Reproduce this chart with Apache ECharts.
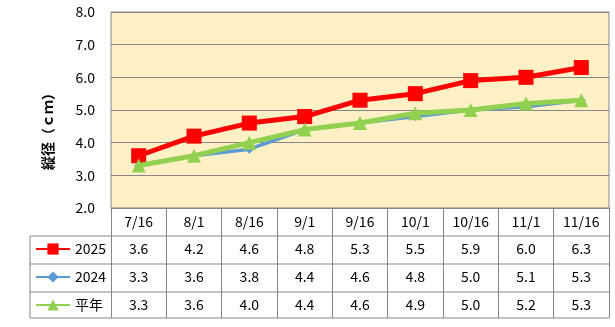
<!DOCTYPE html>
<html><head><meta charset="utf-8">
<script src="https://cdn.jsdelivr.net/npm/echarts@6/dist/echarts.min.js"></script>
<style>html,body{margin:0;padding:0;background:#fff}#c{width:615px;height:327px}</style>
</head><body><div id="c"></div>
<script>
var categories = ['7/16','8/1','8/16','9/1','9/16','10/1','10/16','11/1','11/16'];
var v2025 = [3.6, 4.2, 4.6, 4.8, 5.3, 5.5, 5.9, 6.0, 6.3];
var v2024 = [3.3, 3.6, 3.8, 4.4, 4.6, 4.8, 5.0, 5.1, 5.3];
var vNormal = [3.3, 3.6, 4.0, 4.4, 4.6, 4.9, 5.0, 5.2, 5.3];
var seriesNames = ['2025', '2024', '平年'];
var yTicks = {min: 2, max: 8, interval: 1};
var yTitle = '縦径（ｃｍ）';

var FONT = '"Noto Sans CJK JP", "Noto Sans", sans-serif';
var GL = 111, GR = 609, GT = 12, GB = 208, ROW = 28, TL = 30;
var gray = '#868686';

function rowAxis(arr, margin) {
  return {
    type: 'category', data: categories, gridIndex: 0, position: 'bottom',
    axisLine: {show: false}, axisTick: {show: false}, splitLine: {show: false},
    axisLabel: {margin: margin, verticalAlign: 'middle', color: '#000', fontSize: 14, fontFamily: FONT,
      formatter: function (v, i) { return arr ? arr[i].toFixed(1) : v; }}
  };
}
var xMain = rowAxis(null, 13.5);
xMain.axisLine = {show: true, lineStyle: {color: gray, width: 1}};
xMain.axisTick = {show: true, length: 110, interval: 0, lineStyle: {color: gray, width: 1}};

var chart = echarts.init(document.getElementById('c'), null, {renderer: 'canvas'});
var graphics = [];
[GB + ROW, GB + 2 * ROW, GB + 3 * ROW, GB + 4 * ROW - 2].forEach(function (y) {
  graphics.push({type: 'line', shape: {x1: TL, y1: y, x2: GR, y2: y}, style: {stroke: gray, lineWidth: 1}});
});
graphics.push({type: 'line', shape: {x1: TL, y1: GB + ROW, x2: TL, y2: GB + 4 * ROW - 2}, style: {stroke: gray, lineWidth: 1}});
graphics.push({type: 'text', x: 48, y: 128, rotation: Math.PI / 2,
  style: {text: yTitle, fontSize: 14, fontWeight: 'bold', fontFamily: FONT, fill: '#000', align: 'center', verticalAlign: 'middle'}});

chart.setOption({
  animation: false,
  backgroundColor: '#fff',
  grid: {left: GL, right: 615 - GR, top: GT, bottom: 327 - GB, show: true, backgroundColor: '#FFF0C6', borderColor: gray, borderWidth: 1, outerBoundsMode: 'none'},
  legend: {orient: 'vertical', left: 30, top: 237, itemGap: 14, itemWidth: 34, itemHeight: 14,
    textStyle: {fontSize: 14, fontFamily: FONT, color: '#000'}, data: seriesNames},
  xAxis: [xMain, rowAxis(v2025, 41), rowAxis(v2024, 69), rowAxis(vNormal, 96.5)],
  yAxis: {type: 'value', min: yTicks.min, max: yTicks.max, interval: yTicks.interval,
    axisLine: {show: false}, axisTick: {show: false},
    splitLine: {lineStyle: {color: gray, width: 1}},
    axisLabel: {margin: 16, color: '#000', fontSize: 14, fontFamily: FONT, formatter: function (v) { return v.toFixed(1); }}},
  series: [
    {name: seriesNames[0], type: 'line', data: v2025, symbol: 'rect', symbolSize: 15,
      itemStyle: {color: '#FF0000'}, lineStyle: {color: '#FF0000', width: 5}, z: 3},
    {name: seriesNames[1], type: 'line', data: v2024, symbol: 'diamond', symbolSize: 9,
      itemStyle: {color: '#5B9BD5'}, lineStyle: {color: '#5B9BD5', width: 3.5}, z: 4},
    {name: seriesNames[2], type: 'line', data: vNormal, symbol: 'triangle', symbolSize: 14,
      itemStyle: {color: '#92D050'}, lineStyle: {color: '#92D050', width: 5}, z: 5}
  ],
  graphic: graphics
});
</script></body></html>
